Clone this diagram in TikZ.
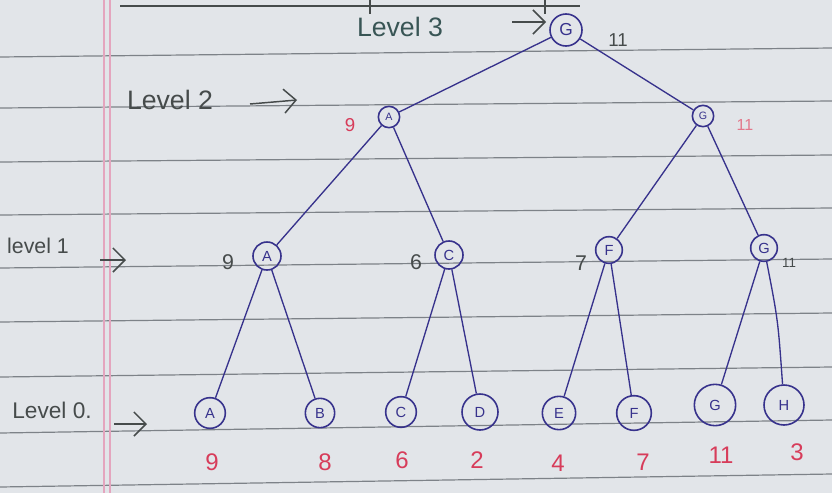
\documentclass[tikz,border=0pt]{standalone}
\usepackage{fontspec}
\setmainfont{Liberation Sans}
\usetikzlibrary{arrows.meta}
\definecolor{paper}{RGB}{226,229,233}
\definecolor{rulecol}{RGB}{125,130,136}
\definecolor{ink}{RGB}{55,50,140}
\definecolor{pencil}{RGB}{70,75,75}
\definecolor{redink}{RGB}{215,60,90}
\definecolor{margincol}{RGB}{228,165,190}
\begin{document}
\begin{tikzpicture}[x=0.75pt,y=-0.75pt,
  vnode/.style={circle,draw=ink,line width=1.2pt,inner sep=0pt,text=ink,font=\fontsize{11}{11}\selectfont},
  edge/.style={draw=ink,line width=1pt},
  hand/.style={text=pencil,font=\fontsize{20}{20}\selectfont,inner sep=0pt},
  redlabel/.style={text=redink,font=\fontsize{18}{18}\selectfont,inner sep=0pt},
  graylabel/.style={text=pencil,font=\fontsize{14}{14}\selectfont,inner sep=0pt},
  handarrow/.style={draw=pencil,line width=1.1pt,-{Straight Barb[length=9pt,width=18pt]}},
  ruled/.style={draw=rulecol,line width=0.9pt}]
% paper
\fill[paper] (0,0) rectangle (832,493);
\useasboundingbox (0,0) rectangle (832,493);
\foreach \yl/\yr in {57/48,108/101,162/155,215/208,268/259,322/313,377/367,433/420,487/474}
  \draw[ruled] (0,\yl) -- (832,\yr);
\draw[margincol,line width=1pt] (104,0) -- (104,493);
\draw[margincol,line width=1pt] (110,0) -- (110,493);
\draw[pencil,line width=1.8pt] (120,6) -- (580,6);
\draw[pencil,line width=1.2pt] (370,0) -- (370,14);
\draw[pencil,line width=1.2pt] (545,0) -- (545,14);

% level labels
\node[hand,text=pencil!80!teal] (l3) at (400,27) {Level 3};
\coordinate (l3a) at (512,22); \coordinate (l3b) at (546,22);
\draw[handarrow] (l3a) -- (l3b);
\node[hand] (l2) at (170,100) {Level 2};
\coordinate (l2a) at (250,104); \coordinate (l2b) at (297,100);
\draw[handarrow] (l2a) -- (l2b);
\node[hand,font=\fontsize{16}{16}\selectfont] (l1) at (38,246) {level 1};
\coordinate (l1a) at (100,260); \coordinate (l1b) at (126,260);
\draw[handarrow] (l1a) -- (l1b);
\node[hand,font=\fontsize{17}{17}\selectfont] (l0) at (52,410) {Level 0.};
\coordinate (l0a) at (114,424); \coordinate (l0b) at (147,424);
\draw[handarrow] (l0a) -- (l0b);

% nodes
\node[vnode,minimum size=24pt,font=\fontsize{13}{13}\selectfont] (r) at (566,30) {G};
\node[vnode,minimum size=16pt,font=\fontsize{8}{8}\selectfont] (a2) at (389,117) {A};
\node[vnode,minimum size=16pt,font=\fontsize{8}{8}\selectfont] (g2) at (703,116) {G};
\node[vnode,minimum size=21pt] (a1) at (267,256) {A};
\node[vnode,minimum size=21pt] (c1) at (449,255) {C};
\node[vnode,minimum size=20pt] (f1) at (609,250) {F};
\node[vnode,minimum size=20pt] (g1) at (764,248) {G};
\node[vnode,minimum size=23pt] (a0) at (210,413) {A};
\node[vnode,minimum size=22pt] (b0) at (320,413) {B};
\node[vnode,minimum size=23pt] (c0) at (401,412) {C};
\node[vnode,minimum size=27pt] (d0) at (480,412) {D};
\node[vnode,minimum size=25pt] (e0) at (559,413) {E};
\node[vnode,minimum size=26pt] (f0) at (634,413) {F};
\node[vnode,minimum size=31pt] (g0) at (715,405) {G};
\node[vnode,minimum size=30pt] (h0) at (784,405) {H};

% edges
\draw[edge] (r) -- (a2);
\draw[edge] (r) -- (g2);
\draw[edge] (a2) -- (a1);
\draw[edge] (a2) -- (c1);
\draw[edge] (g2) -- (f1);
\draw[edge] (g2) -- (g1);
\draw[edge] (a1) -- (a0);
\draw[edge] (a1) -- (b0);
\draw[edge] (c1) -- (c0);
\draw[edge] (c1) -- (d0);
\draw[edge] (f1) -- (e0);
\draw[edge] (f1) -- (f0);
\draw[edge] (g1) -- (g0);
\draw[edge] (g1) .. controls (778,320) .. (h0);

% values
\node[graylabel] (vr) at (618,40) {11};
\node[redlabel,font=\fontsize{14}{14}\selectfont] (va2) at (350,125) {9};
\node[redlabel,font=\fontsize{12}{12}\selectfont,text=redink!70] (vg2) at (745,125) {11};
\node[graylabel,font=\fontsize{16}{16}\selectfont] (va1) at (228,262) {9};
\node[graylabel,font=\fontsize{16}{16}\selectfont] (vc1) at (416,262) {6};
\node[graylabel,font=\fontsize{16}{16}\selectfont] (vf1) at (581,263) {7};
\node[graylabel,font=\fontsize{10}{10}\selectfont] (vg1) at (789,263) {11};
\node[redlabel] (v0a) at (212,462) {9};
\node[redlabel] (v0b) at (325,462) {8};
\node[redlabel] (v0c) at (402,460) {6};
\node[redlabel] (v0d) at (477,460) {2};
\node[redlabel] (v0e) at (558,463) {4};
\node[redlabel] (v0f) at (643,462) {7};
\node[redlabel] (v0g) at (721,455) {11};
\node[redlabel] (v0h) at (797,452) {3};
\end{tikzpicture}
\end{document}
